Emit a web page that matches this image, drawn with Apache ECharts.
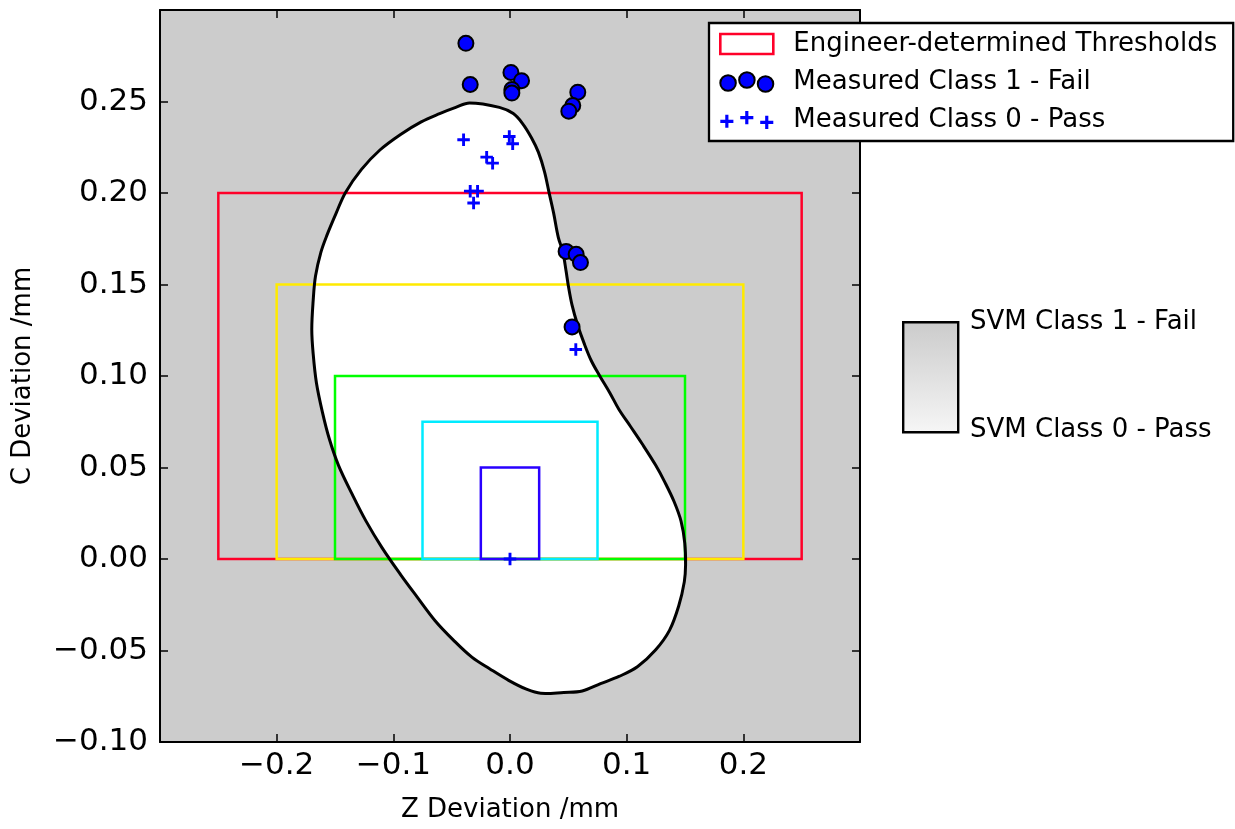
<!DOCTYPE html>
<html><head><meta charset="utf-8">
<script src="https://cdn.jsdelivr.net/npm/echarts@6/dist/echarts.min.js"></script>
<style>html,body{margin:0;padding:0;background:#fff}#chart{width:1235px;height:829px}</style>
</head><body><div id="chart"></div>
<script>
// SVM decision boundary (Class 0 - Pass region outline)
const boundaryZ = [-0.0347,-0.0091,0.0028,0.0106,0.0185,0.0244,0.0296,0.0335,0.0374,0.0414,0.0453,0.0481,0.0500,0.0532,0.0579,0.0638,0.0698,0.0768,0.0855,0.0934,0.1033,0.1131,0.1249,0.1328,0.1407,0.1466,0.1498,0.1505,0.1494,0.1446,0.1367,0.1249,0.1092,0.0934,0.0776,0.0619,0.0461,0.0264,0.0146,-0.0012,-0.0169,-0.0327,-0.0485,-0.0642,-0.0800,-0.0938,-0.1096,-0.1234,-0.1352,-0.1470,-0.1549,-0.1608,-0.1659,-0.1687,-0.1699,-0.1687,-0.1667,-0.1620,-0.1568,-0.1490,-0.1411,-0.1273,-0.1115,-0.0938,-0.0761,-0.0603,-0.0465];
const boundaryC = [0.2492,0.2468,0.2434,0.2381,0.2301,0.2222,0.2116,0.2002,0.1890,0.1758,0.1678,0.1572,0.1493,0.1387,0.1280,0.1174,0.1082,0.1002,0.0909,0.0817,0.0724,0.0631,0.0512,0.0419,0.0313,0.0207,0.0087,-0.0032,-0.0125,-0.0257,-0.0390,-0.0496,-0.0589,-0.0642,-0.0681,-0.0721,-0.0729,-0.0734,-0.0713,-0.0663,-0.0602,-0.0536,-0.0443,-0.0337,-0.0204,-0.0085,0.0061,0.0207,0.0353,0.0512,0.0657,0.0803,0.0962,0.1121,0.1254,0.1413,0.1546,0.1678,0.1771,0.1890,0.2002,0.2129,0.2235,0.2320,0.2389,0.2434,0.2468];

// Engineer-determined thresholds (half width in Z, height in C)
const thresholdHalfWidth = [0.25, 0.2, 0.15, 0.075, 0.025];
const thresholdHeight = [0.2, 0.15, 0.1, 0.075, 0.05];
const thresholdColors = ['#ff0029', '#ffea00', '#00ff00', '#00ebff', '#2900ff'];

// Measured Class 1 - Fail
const failZ = [-0.0378, -0.0341, 0.0008, 0.0099, 0.0016, 0.0016, 0.0581, 0.0538, 0.0504, 0.0481, 0.0567, 0.0604, 0.0532];
const failC = [0.2818, 0.2593, 0.2659, 0.2614, 0.2566, 0.2546, 0.2551, 0.2478, 0.2447, 0.1681, 0.1665, 0.1620, 0.1268];
// Measured Class 0 - Pass
const passZ = [-0.0398, -0.0006, 0.0023, -0.0200, -0.0149, -0.0341, -0.0278, -0.0312, 0.0564, 0.0];
const passC = [0.2291, 0.2309, 0.2269, 0.2196, 0.2163, 0.2010, 0.2010, 0.1945, 0.1145, 0.0];

const legendNames = ['Engineer-determined Thresholds', 'Measured Class 1 - Fail', 'Measured Class 0 - Pass'];
const svmLabels = ['SVM Class 1 - Fail', 'SVM Class 0 - Pass'];

const FONT = 'DejaVu Sans';
const MINUS = '\u2212';
function fmt(v, d) {
  if (Math.abs(v) < 1e-9) return (0).toFixed(d);
  return (v < 0 ? MINUS : '') + Math.abs(v).toFixed(d);
}

const boundaryData = boundaryZ.map((z, i) => [z, boundaryC[i]]);
const thresholdData = thresholdHalfWidth.map((w, i) => [-w, 0, w, thresholdHeight[i]]);
const failData = failZ.map((z, i) => [z, failC[i]]);
const passData = passZ.map((z, i) => [z, passC[i]]);

const plusSymbol = 'path://M5,0H8V5H13V8H8V13H5V8H0V5H5Z';
const circlesIcon = 'path://M1,10.6a7.3,7.3 0 1,0 14.6,0a7.3,7.3 0 1,0 -14.6,0Z M18.7,7.8a7.3,7.3 0 1,0 14.6,0a7.3,7.3 0 1,0 -14.6,0Z M36.2,11.6a7.3,7.3 0 1,0 14.6,0a7.3,7.3 0 1,0 -14.6,0Z';
const plusesIcon = 'path://M0,8.5H4.7V3.8H7.7V8.5H12.4V11.5H7.7V16.2H4.7V11.5H0Z M18.9,5H23.6V0.3H26.6V5H31.3V8H26.6V12.7H23.6V8H18.9Z M37.8,9.5H42.5V4.8H45.5V9.5H50.2V12.5H45.5V17.2H42.5V12.5H37.8Z';

const axisLineStyle = { color: '#000', width: 2 };
const tickStyle = { show: true, inside: true, length: 8, lineStyle: { color: '#000', width: 1.5 } };

function boundaryPolygon(api, style) {
  return { type: 'polygon', shape: { points: boundaryData.map(p => api.coord(p)), smooth: 0.35 }, style: style };
}

const chart = echarts.init(document.getElementById('chart'), null, { renderer: 'canvas' });
chart.setOption({
  animation: false,
  backgroundColor: '#ffffff',
  textStyle: { fontFamily: FONT },
  grid: { left: 160, top: 10, width: 700, height: 732, show: true, backgroundColor: '#cccccc', borderWidth: 0 },
  xAxis: [
    { type: 'value', min: -0.3, max: 0.3, interval: 0.1, position: 'bottom',
      axisLine: { show: true, onZero: false, lineStyle: axisLineStyle }, axisTick: tickStyle, splitLine: { show: false },
      axisLabel: { fontSize: 31, color: '#000', fontFamily: FONT, margin: 8, showMinLabel: false, showMaxLabel: false, formatter: v => fmt(v, 1) },
      name: 'Z Deviation /mm', nameLocation: 'middle', nameGap: 55,
      nameTextStyle: { fontSize: 26, color: '#000', fontFamily: FONT } },
    { type: 'value', min: -0.3, max: 0.3, interval: 0.1, position: 'top',
      axisLine: { show: true, onZero: false, lineStyle: axisLineStyle }, axisTick: tickStyle, splitLine: { show: false },
      axisLabel: { show: false } }
  ],
  yAxis: [
    { type: 'value', min: -0.1, max: 0.3, interval: 0.05, position: 'left',
      axisLine: { show: true, onZero: false, lineStyle: axisLineStyle }, axisTick: tickStyle, splitLine: { show: false },
      axisLabel: { fontSize: 31, color: '#000', fontFamily: FONT, margin: 12, showMaxLabel: false, formatter: v => fmt(v, 2) },
      name: 'C Deviation /mm', nameLocation: 'middle', nameGap: 124,
      nameTextStyle: { fontSize: 26, color: '#000', fontFamily: FONT } },
    { type: 'value', min: -0.1, max: 0.3, interval: 0.05, position: 'right',
      axisLine: { show: true, onZero: false, lineStyle: axisLineStyle }, axisTick: tickStyle, splitLine: { show: false },
      axisLabel: { show: false } }
  ],
  legend: {
    orient: 'vertical', left: 709, top: 23,
    padding: [8, 16, 8, 10], itemGap: 12, itemWidth: 53, itemHeight: 20,
    backgroundColor: '#ffffff', borderColor: '#000', borderWidth: 2.3, borderRadius: 0,
    selectedMode: false,
    formatter: name => '{a|' + name + '}',
    textStyle: { fontSize: 26, fontFamily: FONT, color: '#000',
      rich: { a: { fontSize: 26, fontFamily: FONT, color: '#000', lineHeight: 26, padding: [0, 0, 0, 15] } } },
    data: [
      { name: legendNames[0], icon: 'rect', itemStyle: { color: 'rgba(255,255,255,0)', borderColor: thresholdColors[0], borderWidth: 2.6 } },
      { name: legendNames[1], icon: circlesIcon, itemStyle: { color: '#0000ff', borderColor: '#000', borderWidth: 2 } },
      { name: legendNames[2], icon: plusesIcon, itemStyle: { color: '#0000ff', borderWidth: 0 } }
    ]
  },
  graphic: [
    { type: 'rect', left: 902, top: 321, shape: { x: 0, y: 0, width: 55, height: 110 },
      style: { stroke: '#000', lineWidth: 2.4,
        fill: new echarts.graphic.LinearGradient(0, 0, 0, 1, [{ offset: 0, color: '#cbcbcb' }, { offset: 1, color: '#f6f6f6' }]) } },
    { type: 'text', x: 970, y: 322, style: { text: svmLabels[0], font: '26px "DejaVu Sans"', fill: '#000', verticalAlign: 'middle', align: 'left' } },
    { type: 'text', x: 970, y: 430, style: { text: svmLabels[1], font: '26px "DejaVu Sans"', fill: '#000', verticalAlign: 'middle', align: 'left' } }
  ],
  series: [
    { type: 'custom', name: 'SVM Class 0 region', xAxisIndex: 0, yAxisIndex: 0, silent: true, z: 1,
      data: [[0, 0]],
      renderItem: (params, api) => boundaryPolygon(api, { fill: '#ffffff', stroke: null }) },
    { type: 'custom', name: legendNames[0], xAxisIndex: 0, yAxisIndex: 0, silent: true, z: 2,
      encode: { x: [0, 2], y: [1, 3] },
      data: thresholdData,
      renderItem: (params, api) => {
        const p0 = api.coord([api.value(0), api.value(3)]);
        const p1 = api.coord([api.value(2), api.value(1)]);
        return { type: 'rect', shape: { x: p0[0], y: p0[1], width: p1[0] - p0[0], height: p1[1] - p0[1] },
          style: { fill: 'none', stroke: thresholdColors[params.dataIndex], lineWidth: 2.5 } };
      } },
    { type: 'custom', name: 'SVM boundary', xAxisIndex: 0, yAxisIndex: 0, silent: true, z: 3,
      data: [[0, 0]],
      renderItem: (params, api) => boundaryPolygon(api, { fill: 'none', stroke: '#000', lineWidth: 3 }) },
    { type: 'scatter', name: legendNames[1], xAxisIndex: 0, yAxisIndex: 0, z: 5,
      data: failData, symbol: 'circle', symbolSize: 15,
      itemStyle: { color: '#0000ff', borderColor: '#000', borderWidth: 2, opacity: 1 } },
    { type: 'scatter', name: legendNames[2], xAxisIndex: 0, yAxisIndex: 0, z: 5,
      data: passData, symbol: plusSymbol, symbolSize: 12.5,
      itemStyle: { color: '#0000ff', opacity: 1 } }
  ]
});
</script>
</body></html>
